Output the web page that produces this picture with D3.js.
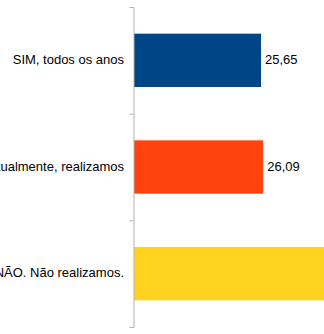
<!DOCTYPE html>
<html>
<head>
<meta charset="utf-8">
<script src="https://cdn.jsdelivr.net/npm/d3@7/dist/d3.min.js"></script>
<style>
html,body{margin:0;padding:0;background:#fff;overflow:hidden;}
svg{display:block;}
</style>
</head>
<body>
<script>
const categories = ["SIM, todos os anos", "Eventualmente, realizamos", "NÃO. Não realizamos."];
const values = [25.65, 26.09, 48.26];
const valueLabels = ["25,65", "26,09", "48,26"];
const colors = ["#004586", "#ff420e", "#ffd320"];

const W = 324, H = 334;
const svg = d3.select("body").append("svg").attr("width", W).attr("height", H);

const x = d3.scaleLinear().domain([0, 50]).range([134, 381.6]);
const y = d3.scaleBand().domain(categories).range([7, 327]).paddingInner(0.5).paddingOuter(0.25);

// bars
svg.selectAll("rect.bar").data(values).enter().append("rect")
  .attr("class", "bar")
  .attr("x", x(0))
  .attr("y", (d, i) => y(categories[i]))
  .attr("width", d => x(d) - x(0))
  .attr("height", y.bandwidth())
  .attr("fill", (d, i) => colors[i]);

// axis with tick marks at band boundaries
const bounds = d3.scaleLinear().domain([0, categories.length]).range([7, 327]);
const axisG = svg.append("g").attr("transform", "translate(133.5,0)")
  .call(d3.axisLeft(bounds).tickValues(d3.range(categories.length + 1)).tickFormat("").tickSize(4).tickSizeOuter(4));
axisG.selectAll("path, line").attr("stroke", "#b3b3b3");

// category labels
svg.selectAll("text.cat").data(categories).enter().append("text")
  .attr("class", "cat")
  .attr("x", 124)
  .attr("y", d => y(d) + y.bandwidth() / 2)
  .attr("dy", "0.27em")
  .attr("text-anchor", "end")
  .attr("font-family", "'Liberation Sans', Arial, sans-serif")
  .attr("font-size", 13)
  .attr("fill", "#000")
  .text(d => d);

// value labels
svg.selectAll("text.val").data(values).enter().append("text")
  .attr("class", "val")
  .attr("x", d => x(d) + 4)
  .attr("y", (d, i) => y(categories[i]) + y.bandwidth() / 2)
  .attr("dy", "0.27em")
  .attr("font-family", "'Liberation Sans', Arial, sans-serif")
  .attr("font-size", 13)
  .attr("fill", "#000")
  .text((d, i) => valueLabels[i]);
</script>
</body>
</html>
